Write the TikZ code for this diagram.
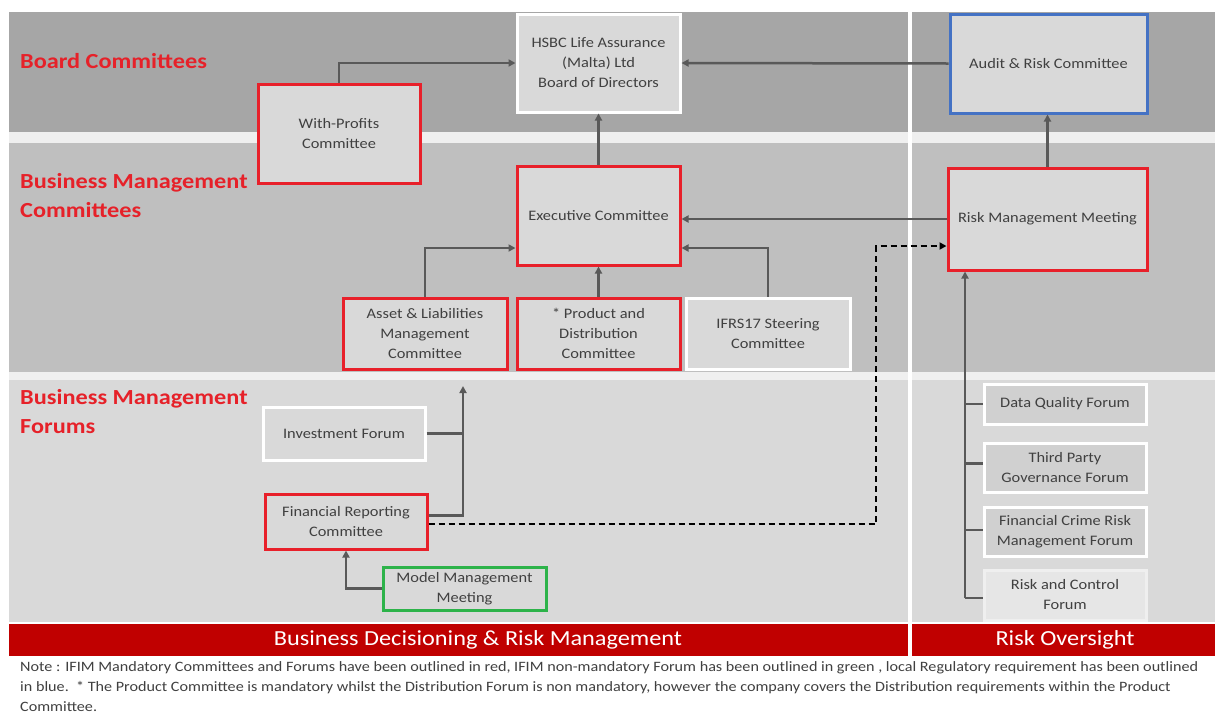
\documentclass[tikz,border=0pt]{standalone}
\usepackage{fontspec}
\setmainfont[FakeStretch=1.13]{Carlito}
\usetikzlibrary{arrows.meta}
\definecolor{bandA}{HTML}{A6A6A6}
\definecolor{bandB}{HTML}{BFBFBF}
\definecolor{bandC}{HTML}{D9D9D9}
\definecolor{gapc}{HTML}{EFEFEF}
\definecolor{boxfill}{HTML}{D9D9D9}
\definecolor{fboxfill}{HTML}{D0D0D0}
\definecolor{redb}{HTML}{E8202A}
\definecolor{redt}{HTML}{E62129}
\definecolor{barred}{HTML}{C00000}
\definecolor{blueb}{HTML}{4472C4}
\definecolor{greenb}{HTML}{2DB34A}
\definecolor{linec}{HTML}{595959}
\definecolor{txt}{HTML}{404040}
\begin{document}
\begin{tikzpicture}[x=1pt,y=-1pt,
  box/.style={draw, line width=3pt, fill=boxfill, inner sep=0pt, align=center,
    text=txt, font=\fontsize{14.5}{20}\selectfont},
  redbox/.style={box, draw=redb},
  whitebox/.style={box, draw=white},
  bluebox/.style={box, draw=blueb},
  greenbox/.style={box, draw=greenb},
  forumbox/.style={box, draw=white, fill=fboxfill},
  conn/.style={draw=linec, line width=2.5pt, -{Triangle[length=7pt,width=7pt]}},
  plain/.style={draw=linec, line width=2.5pt},
  dconn/.style={draw=black, line width=2pt, dash pattern=on 6pt off 4pt, -{Triangle[length=7pt,width=7pt]}},
  bandlabel/.style={text=redt, font=\fontsize{21.5}{29}\selectfont\bfseries, align=left, anchor=west, inner sep=0pt},
  barlabel/.style={text=white, font=\fontsize{21.5}{26}\selectfont, inner sep=0pt}
]
\useasboundingbox (0,0) rectangle (1215,713);
\fill[white] (0,0) rectangle (1215,713);
% bands
\fill[gapc] (9,12) rectangle (1215,656);
\fill[bandA] (9,12) rectangle (1215,132);
\fill[bandB] (9,143) rectangle (1215,372);
\fill[bandC] (9,380) rectangle (1215,622);
\fill[barred] (9,624) rectangle (1215,656);
\fill[white] (908,12) rectangle (912,656);
\fill[white] (9,622) rectangle (1215,624);

% band labels
\node[bandlabel] (lb1) at (20,61) {Board Committees};
\node[bandlabel] (lb2) at (20,196) {Business Management\\Committees};
\node[bandlabel] (lb3) at (20,412) {Business Management\\Forums};
\node[barlabel] (bar1) at (478,640) {Business Decisioning \& Risk Management};
\node[barlabel] (bar2) at (1065,640) {Risk Oversight};

% boxes
\node[whitebox, minimum width=163pt, minimum height=98pt] (hsbc) at (598.5,63) {HSBC Life Assurance\\(Malta) Ltd\\Board of Directors};
\node[redbox, minimum width=162pt, minimum height=99pt] (wp) at (339,133.5) {With-Profits\\Committee};
\node[bluebox, minimum width=197pt, minimum height=99pt] (audit) at (1048.5,63.5) {Audit \& Risk Committee};
\node[redbox, minimum width=163pt, minimum height=99pt] (exec) at (598.5,215.5) {Executive Committee};
\node[redbox, minimum width=199pt, minimum height=102pt] (rmm) at (1047.5,219) {Risk Management Meeting};
\node[redbox, minimum width=164pt, minimum height=71pt] (alm) at (425,333.5) {Asset \& Liabilities\\Management\\Committee};
\node[redbox, minimum width=163pt, minimum height=71pt] (pdc) at (598.5,333.5) {* Product and\\Distribution\\Committee};
\node[whitebox, minimum width=164pt, minimum height=71pt] (ifrs) at (768,333.5) {IFRS17 Steering\\Committee};
\node[whitebox, minimum width=162pt, minimum height=53pt] (inv) at (344,433.5) {Investment Forum};
\node[redbox, minimum width=162pt, minimum height=55pt] (frc) at (346,521.5) {Financial Reporting\\Committee};
\node[greenbox, minimum width=163pt, minimum height=43pt] (mmm) at (464.5,588.5) {Model Management\\Meeting};
\node[forumbox, minimum width=162pt, minimum height=40pt] (dq) at (1065,404) {Data Quality Forum};
\node[forumbox, minimum width=162pt, minimum height=49pt] (tp) at (1065,467.5) {Third Party\\Governance Forum};
\node[forumbox, minimum width=162pt, minimum height=49pt] (fc) at (1065,531.5) {Financial Crime Risk\\Management Forum};
\node[box, draw=gapc, fill=gapc!60!bandC, minimum width=162pt, minimum height=50pt] (rc) at (1065,595) {Risk and Control\\Forum};

% connectors
\draw[conn] (wp.north) |- (hsbc.west);
\draw[conn] (audit.west) -- (hsbc.east);
\draw[conn] (exec.north) -- (hsbc.south);
\draw[conn] (rmm.west) -- (rmm.west -| exec.east);
\draw[conn] (rmm.north) -- (rmm.north |- audit.south);
\draw[conn] (alm.north) |- ([yshift=-32.5pt]exec.west);
\draw[conn] (pdc.north) -- (exec.south);
\draw[conn] (ifrs.north) |- ([yshift=-32.5pt]exec.east);

\coordinate (fup) at (463,386);
\draw[conn] ([yshift=6pt]frc.east) -| (fup);
\draw[plain] (inv.east) -- (inv.east -| fup);
\draw[conn] (mmm.west) -| (frc.south);

\coordinate (dj) at (876,246);
\draw[dconn] ([yshift=-2.5pt]frc.east) -| (dj) -- (dj -| rmm.west);

\coordinate (rbus) at (965,598);
\draw[conn] (rbus) -- (rbus |- rmm.south);
\draw[plain] (dq.west) -- (dq.west -| rbus);
\draw[plain] ([yshift=4pt]tp.west) -- ([yshift=4pt]tp.west -| rbus);
\draw[plain] ([yshift=1.5pt]fc.west) -- ([yshift=1.5pt]fc.west -| rbus);
\draw[plain] ([yshift=-3pt]rc.west) -- (rbus);

% note
\node[anchor=north west, align=left, inner sep=0pt, text=txt, font=\fontsize{14.3}{20}\selectfont] (note) at (20,661) {Note : IFIM Mandatory Committees and Forums have been outlined in red, IFIM non-mandatory Forum has been outlined in green , local Regulatory requirement has been outlined\\in blue.\ \ * The Product Committee is mandatory whilst the Distribution Forum is non mandatory, however the company covers the Distribution requirements within the Product\\Committee.};
\end{tikzpicture}
\end{document}
